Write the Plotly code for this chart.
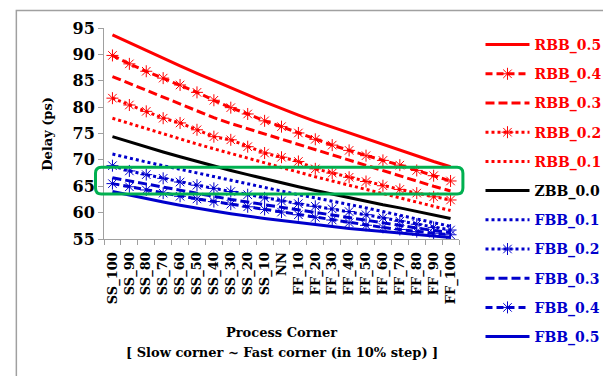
import plotly.graph_objects as go

categories = ["SS_100", "SS_90", "SS_80", "SS_70", "SS_60", "SS_50", "SS_40", "SS_30",
              "SS_20", "SS_10", "NN", "FF_10", "FF_20", "FF_30", "FF_40", "FF_50",
              "FF_60", "FF_70", "FF_80", "FF_90", "FF_100"]

rbb_05 = [93.7, 92.2, 90.7, 89.2, 87.8, 86.4, 85.0, 83.6, 82.3, 81.0, 79.7,
          78.5, 77.3, 76.2, 75.1, 74.0, 72.9, 71.8, 70.7, 69.7, 68.7]
rbb_04 = [89.8, 88.2, 86.8, 85.5, 84.2, 82.8, 81.3, 79.9, 78.7, 77.4, 76.3,
          75.1, 73.9, 72.8, 71.8, 70.8, 69.9, 69.0, 68.0, 67.0, 66.0]
rbb_03 = [85.8, 84.5, 83.1, 81.8, 80.5, 79.2, 78.0, 76.9, 75.9, 74.9, 74.0,
          73.0, 72.0, 71.0, 70.0, 69.0, 68.0, 67.0, 66.0, 65.0, 64.1]
rbb_02 = [81.7, 80.4, 79.2, 77.9, 77.0, 75.7, 74.4, 73.8, 72.5, 71.3, 70.5,
          69.7, 68.3, 67.5, 66.7, 65.9, 65.1, 64.4, 63.7, 63.0, 62.4]
rbb_01 = [77.9, 76.9, 75.9, 74.9, 73.9, 73.0, 72.1, 71.2, 70.3, 69.4, 68.5,
          67.6, 66.8, 66.0, 65.2, 64.4, 63.6, 62.8, 62.0, 61.2, 60.4]
zbb_00 = [74.4, 73.4, 72.4, 71.5, 70.6, 69.7, 68.9, 68.0, 67.2, 66.4, 65.6,
          64.9, 64.2, 63.5, 62.8, 62.2, 61.5, 60.9, 60.2, 59.5, 58.9]
fbb_01 = [71.1, 70.3, 69.6, 68.9, 68.2, 67.5, 66.8, 66.1, 65.4, 64.7, 64.0,
          63.4, 62.8, 62.2, 61.5, 60.9, 60.2, 59.5, 58.8, 58.1, 57.4]
fbb_02 = [68.9, 67.9, 67.2, 66.5, 65.8, 65.2, 64.6, 64.0, 63.4, 62.8, 62.2,
          61.7, 61.2, 60.7, 60.2, 59.6, 59.0, 58.4, 57.8, 57.2, 56.7]
fbb_03 = [66.6, 66.0, 65.4, 64.8, 64.2, 63.6, 63.0, 62.5, 62.0, 61.5, 61.0,
          60.5, 60.0, 59.5, 59.0, 58.5, 58.0, 57.5, 57.0, 56.6, 56.2]
fbb_04 = [65.5, 64.9, 64.3, 63.7, 63.1, 62.6, 62.1, 61.6, 61.1, 60.6, 60.1,
          59.6, 59.1, 58.6, 58.1, 57.6, 57.2, 56.8, 56.4, 56.1, 55.8]
fbb_05 = [64.0, 63.3, 62.6, 62.0, 61.4, 60.8, 60.3, 59.8, 59.3, 58.9, 58.5,
          58.1, 57.7, 57.3, 57.0, 56.7, 56.4, 56.1, 55.8, 55.5, 55.3]

series_names = ["RBB_0.5", "RBB_0.4", "RBB_0.3", "RBB_0.2", "RBB_0.1", "ZBB_0.0",
                "FBB_0.1", "FBB_0.2", "FBB_0.3", "FBB_0.4", "FBB_0.5"]
series_values = [rbb_05, rbb_04, rbb_03, rbb_02, rbb_01, zbb_00,
                 fbb_01, fbb_02, fbb_03, fbb_04, fbb_05]

RED = "#FF0000"
BLACK = "#000000"
BLUE = "#0000CC"
colors = [RED] * 5 + [BLACK] + [BLUE] * 5
dashes = ["solid", "7px,4px", "9px,4px", "3px,3px", "3px,3px", "solid",
          "3px,3px", "3px,3px", "9px,4px", "7px,4px", "solid"]
has_marker = [False, True, False, True, False, False, False, True, False, True, False]

FONT = "DejaVu Serif"

fig = go.Figure()
for i, (name, vals) in enumerate(zip(series_names, series_values)):
    c = colors[i]
    mode = "lines+markers" if has_marker[i] else "lines"
    fig.add_trace(go.Scatter(
        x=categories, y=vals, mode=mode,
        name=f"<span style='color:{c}'>{name}</span>",
        legendgroup=name,
        line=dict(color=c, width=3, dash=dashes[i]),
        marker=dict(symbol="asterisk-open", size=10, color=c,
                    line=dict(color=c, width=1)),
    ))

# plot area geometry (pixels)
L, R, T, B = 95.7, 459.0, 20.0, 230.7
W, H = 611, 376
pw, ph = R - L, B - T


def px_x(px):
    return (px - L) / pw


def px_y(py):
    return (B - py) / ph


# rounded green highlight box
x0, x1 = px_x(87), px_x(463)
y0, y1 = 63.55, 68.6
rx, ry = 6 / pw, 6 * 40 / ph
path = (f"M {x0 + rx},{y1} L {x1 - rx},{y1} Q {x1},{y1} {x1},{y1 - ry} "
        f"L {x1},{y0 + ry} Q {x1},{y0} {x1 - rx},{y0} L {x0 + rx},{y0} "
        f"Q {x0},{y0} {x0},{y0 + ry} L {x0},{y1 - ry} Q {x0},{y1} {x0 + rx},{y1} Z")
shapes = [
    dict(type="path", xref="paper", yref="y", path=path,
         line=dict(color="#00B050", width=3)),
    # outer chart frame
    dict(type="rect", xref="paper", yref="paper",
         x0=px_x(6), x1=px_x(610), y0=px_y(372.5), y1=px_y(2.5),
         line=dict(color="#A0A0A0", width=1.5)),
]

annotations = [
    dict(text="Delay (ps)", xref="paper", yref="paper", x=px_x(38), y=px_y(126),
         showarrow=False, textangle=-90, xanchor="center", yanchor="middle",
         font=dict(family=FONT, size=13, color="black", weight="bold")),
    dict(text="Process Corner", xref="paper", yref="paper", x=0.5, y=px_y(324),
         showarrow=False, xanchor="center", yanchor="middle",
         font=dict(family=FONT, size=13, color="black", weight="bold")),
    dict(text="[ Slow corner ~ Fast corner (in 10% step) ]", xref="paper", yref="paper",
         x=0.5, y=px_y(344), showarrow=False, xanchor="center", yanchor="middle",
         font=dict(family=FONT, size=13, color="black", weight="bold")),
]

fig.update_layout(
    width=W, height=H,
    margin=dict(l=L, r=W - R, t=T, b=H - B),
    paper_bgcolor="white", plot_bgcolor="white",
    showlegend=True,
    legend=dict(x=px_x(481), y=px_y(21), xanchor="left", yanchor="top",
                font=dict(family=FONT, size=14, weight="bold"),
                tracegroupgap=8, itemwidth=44, bgcolor="rgba(0,0,0,0)",
                maxheight=360),
    shapes=shapes, annotations=annotations,
)
fig.update_xaxes(
    type="category", range=[-0.5, 20.5], tickangle=-90,
    showline=True, linecolor="#A0A0A0", linewidth=1,
    ticks="outside", tickson="boundaries", ticklen=5, tickcolor="#A0A0A0",
    showgrid=False, zeroline=False, ticklabelstandoff=7,
    tickfont=dict(family=FONT, size=13, color="black", weight="bold"),
)
fig.update_yaxes(
    range=[55, 95], dtick=5, tick0=55,
    showline=True, linecolor="#A0A0A0", linewidth=1,
    ticks="outside", ticklen=5, tickcolor="#A0A0A0",
    showgrid=False, zeroline=False,
    tickfont=dict(family=FONT, size=16, color="black", weight="bold"),
)

fig.write_html("out.html")
